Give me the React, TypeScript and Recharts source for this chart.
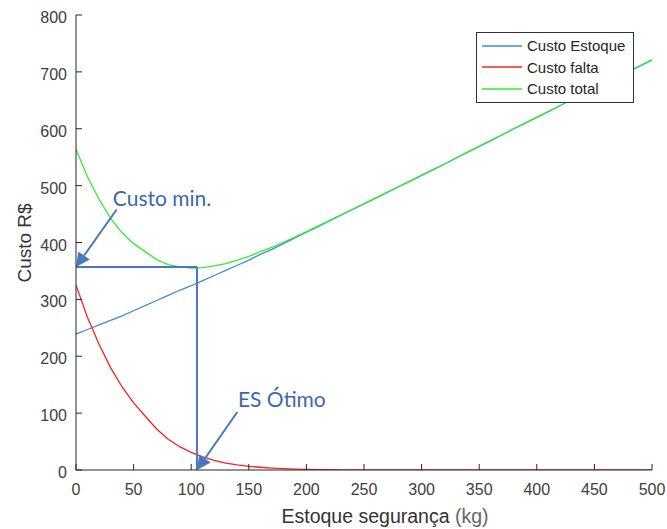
import React from 'react';
import {
  LineChart,
  Line,
  XAxis,
  YAxis,
  ReferenceLine,
  ReferenceDot,
  Legend,
  Customized,
} from 'recharts';

// ---- data ----
const xValues = [
  0, 10, 20, 30, 40, 50, 60, 70, 80, 90, 100, 110, 120, 130, 140, 150, 160, 170, 180, 190, 200,
  210, 220, 230, 240, 250, 260, 270, 280, 290, 300, 310, 320, 330, 340, 350, 360, 370, 380, 390,
  400, 410, 420, 430, 440, 450, 460, 470, 480, 490, 500,
];
const custoEstoque = [
  239, 247, 255, 263, 271, 280, 289, 298, 307, 316, 324, 333, 342, 351, 360, 369, 379, 388, 398, 408, 418,
  428, 438, 448, 458, 468, 478, 488, 498, 508, 518, 528, 538, 548.5, 559, 569, 579, 589.5, 600, 610,
  620, 630, 640.5, 651, 661, 671, 681, 691, 701, 711, 721,
];
const custoFalta = [
  325, 268, 221, 180, 146, 118, 95, 72, 54, 41, 31, 23, 17, 12, 9, 6.5, 4.8, 3.4, 2.4, 1.7, 1.2,
  0.8, 0.5, 0.3, 0.2, 0.1, 0, 0, 0, 0, 0, 0, 0, 0, 0, 0, 0, 0, 0, 0,
  0, 0, 0, 0, 0, 0, 0, 0, 0, 0, 0,
];
const custoTotal = [
  564, 515, 476, 443, 417, 398, 384, 370, 361, 357, 355, 356, 359, 363, 369, 375.5, 383.8, 391.4, 400.4, 409.7, 419.2,
  428.8, 438.5, 448.3, 458.2, 468.1, 478, 488, 498, 508, 518, 528, 538, 548.5, 559, 569, 579, 589.5, 600, 610,
  620, 630, 640.5, 651, 661, 671, 681, 691, 701, 711, 721,
];
const seriesNames = ['Custo Estoque', 'Custo falta', 'Custo total'];
const xTicks = [0, 50, 100, 150, 200, 250, 300, 350, 400, 450, 500];
const yTicks = [0, 100, 200, 300, 400, 500, 600, 700, 800];

// annotation values (data coordinates)
const esOtimo = 105;
const custoMinimo = 357;
const minLabel = 'Custo min.';
const minLabelPos = { x: 32, y: 464 };
const minArrowStart = { x: 35.3, y: 458 };
const esLabel = 'ES Ótimo';
const esLabelPos = { x: 140.6, y: 111 };
const esArrowStart = { x: 140, y: 102 };

const xLabel = 'Estoque segurança';
const xLabelUnit = '(kg)';
const yLabel = 'Custo R$';

// ---- styles ----
const W = 667;
const H = 529;
const AXIS = '#262626';
const TICK_TEXT = '#404040';
const FONT = '"Liberation Sans", Arial, Helvetica, sans-serif';
const ANN_LINE = '#4878BE';
const ANN_TEXT = '#3B6AA8';
const ANN_FONT = 'Lato, "Open Sans", sans-serif';
const COLORS = ['#3A8FD4', '#FF1E1E', '#2EF02E'];

const data = xValues.map((x, i) => ({
  x,
  estoque: custoEstoque[i],
  falta: custoFalta[i],
  total: custoTotal[i],
}));

const TICK_LEN = 6;

const BottomTick = (props: any) => {
  const { x, y, payload } = props;
  return (
    <g>
      <line x1={x} y1={y} x2={x} y2={y - TICK_LEN} stroke={AXIS} strokeWidth={1} />
      <text x={x} y={y + 25} textAnchor="middle" fontSize={16} fill={TICK_TEXT} fontFamily={FONT}>
        {payload.value}
      </text>
    </g>
  );
};

const LeftTick = (props: any) => {
  const { x, y, payload } = props;
  return (
    <g>
      <line x1={x} y1={y} x2={x + TICK_LEN} y2={y} stroke={AXIS} strokeWidth={1} />
      <text x={x - 9} y={y + 8} textAnchor="end" fontSize={16} fill={TICK_TEXT} fontFamily={FONT}>
        {payload.value}
      </text>
    </g>
  );
};

const TopTick = (props: any) => {
  const { x, y } = props;
  return <line x1={x} y1={y} x2={x} y2={y + TICK_LEN} stroke={AXIS} strokeWidth={1} />;
};

const RightTick = (props: any) => {
  const { x, y } = props;
  return <line x1={x} y1={y} x2={x - TICK_LEN} y2={y} stroke={AXIS} strokeWidth={1} />;
};

const Arrow = (props: any) => {
  const { x1, y1, x2, y2 } = props;
  const dx = x2 - x1;
  const dy = y2 - y1;
  const len = Math.sqrt(dx * dx + dy * dy) || 1;
  const ux = dx / len;
  const uy = dy / len;
  const headLen = 14;
  const half = 7;
  const bx = x2 - ux * headLen;
  const by = y2 - uy * headLen;
  const pts = `${x2},${y2} ${bx - uy * half},${by + ux * half} ${bx + uy * half},${by - ux * half}`;
  return (
    <g>
      <line x1={x1} y1={y1} x2={bx} y2={by} stroke={ANN_LINE} strokeWidth={2} />
      <polygon points={pts} fill={ANN_LINE} />
    </g>
  );
};

const PlainLine = (props: any) => {
  const { x1, y1, x2, y2 } = props;
  return <line x1={x1} y1={y1} x2={x2} y2={y2} stroke={ANN_LINE} strokeWidth={2} />;
};

const makeTextShape = (label: string) => (props: any) => (
  <text x={props.cx} y={props.cy} fontSize={21} fill={ANN_TEXT} fontFamily={ANN_FONT}>
    {label}
  </text>
);

const LegendBox = (props: any) => {
  const payload = (props.payload || []) as any[];
  return (
    <div
      style={{
        width: 156,
        height: 67,
        border: '1px solid #333',
        background: '#fff',
        boxSizing: 'content-box',
        fontFamily: FONT,
        fontSize: 15,
        color: '#262626',
        paddingTop: 2,
      }}
    >
      {payload.map((p: any) => (
        <div key={p.value} style={{ display: 'flex', alignItems: 'center', height: 21.5 }}>
          <svg width={50} height={10} style={{ display: 'block' }}>
            <line x1={5} y1={5} x2={45} y2={5} stroke={p.color} strokeWidth={1.3} />
          </svg>
          <span style={{ whiteSpace: 'nowrap' }}>{p.value}</span>
        </div>
      ))}
    </div>
  );
};

const AxisTitles = () => (
  <g>
    <text
      x={385}
      y={523}
      textAnchor="middle"
      fontSize={19.5}
      fill="#333"
      fontFamily={FONT}
    >
      {xLabel} <tspan fill="#666">{xLabelUnit}</tspan>
    </text>
    <text
      x={0}
      y={0}
      transform="translate(31,243) rotate(-90)"
      textAnchor="middle"
      fontSize={19}
      fill="#333"
      fontFamily={FONT}
    >
      {yLabel}
    </text>
  </g>
);

export default function App() {
  return (
    <div style={{ position: 'absolute', left: 0, top: 0, width: W, height: H, background: '#fff' }}>
      <LineChart
        width={W}
        height={H}
        data={data}
        margin={{ top: 15, right: 15, bottom: 0, left: 0 }}
      >
        <XAxis
          dataKey="x"
          type="number"
          domain={[0, 500]}
          ticks={xTicks}
          interval={0}
          height={59}
          tickSize={0}
          tickMargin={0}
          tickLine={false}
          axisLine={{ stroke: AXIS, strokeWidth: 1 }}
          tick={BottomTick}
          allowDataOverflow
        />
        <XAxis
          xAxisId="top"
          orientation="top"
          dataKey="x"
          type="number"
          domain={[0, 500]}
          ticks={xTicks}
          interval={0}
          height={0}
          tickSize={0}
          tickMargin={0}
          tickLine={false}
          axisLine={{ stroke: AXIS, strokeWidth: 1 }}
          tick={TopTick}
        />
        <YAxis
          type="number"
          domain={[0, 800]}
          ticks={yTicks}
          interval={0}
          width={76}
          tickSize={0}
          tickMargin={0}
          tickLine={false}
          axisLine={{ stroke: AXIS, strokeWidth: 1 }}
          tick={LeftTick}
          allowDataOverflow
        />
        <YAxis
          yAxisId="right"
          orientation="right"
          type="number"
          domain={[0, 800]}
          ticks={yTicks}
          interval={0}
          width={0}
          tickSize={0}
          tickMargin={0}
          tickLine={false}
          axisLine={{ stroke: AXIS, strokeWidth: 1 }}
          tick={RightTick}
        />
        <Line
          type="linear"
          dataKey="estoque"
          name={seriesNames[0]}
          stroke={COLORS[0]}
          strokeWidth={1.3}
          dot={false}
          activeDot={false}
          isAnimationActive={false}
        />
        <Line
          type="linear"
          dataKey="falta"
          name={seriesNames[1]}
          stroke={COLORS[1]}
          strokeWidth={1.3}
          dot={false}
          activeDot={false}
          isAnimationActive={false}
        />
        <Line
          type="linear"
          dataKey="total"
          name={seriesNames[2]}
          stroke={COLORS[2]}
          strokeWidth={1.3}
          dot={false}
          activeDot={false}
          isAnimationActive={false}
        />
        <ReferenceLine
          segment={[{ x: 0, y: custoMinimo }, { x: esOtimo, y: custoMinimo }]}
          shape={PlainLine}
          ifOverflow="visible"
        />
        <ReferenceLine
          segment={[{ x: esOtimo, y: custoMinimo }, { x: esOtimo, y: 0 }]}
          shape={PlainLine}
          ifOverflow="visible"
        />
        <ReferenceLine
          segment={[minArrowStart, { x: 0, y: custoMinimo }]}
          shape={Arrow}
          ifOverflow="visible"
        />
        <ReferenceLine
          segment={[esArrowStart, { x: esOtimo, y: 0 }]}
          shape={Arrow}
          ifOverflow="visible"
        />
        <ReferenceDot
          x={minLabelPos.x}
          y={minLabelPos.y}
          r={0}
          ifOverflow="visible"
          shape={makeTextShape(minLabel)}
        />
        <ReferenceDot
          x={esLabelPos.x}
          y={esLabelPos.y}
          r={0}
          ifOverflow="visible"
          shape={makeTextShape(esLabel)}
        />
        <Legend
          layout="horizontal"
          verticalAlign="middle"
          align="center"
          wrapperStyle={{ left: 476, top: 32, width: 158, height: 69 }}
          content={LegendBox}
        />
        <Customized component={AxisTitles} />
      </LineChart>
    </div>
  );
}
